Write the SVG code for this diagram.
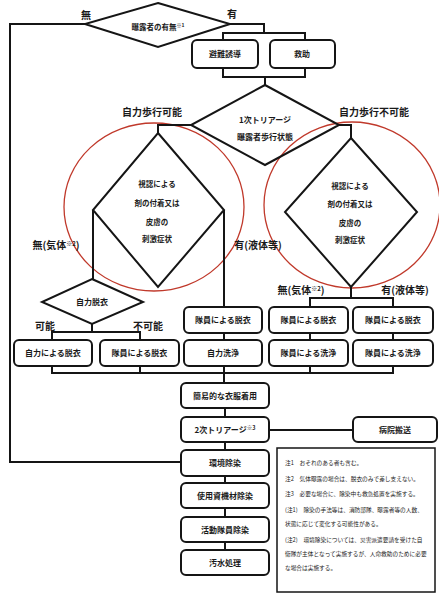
<svg xmlns="http://www.w3.org/2000/svg" width="439" height="595" viewBox="0 0 439 595">
<style>
.ln{fill:none;stroke:#151515;stroke-width:2;stroke-linejoin:miter}
.bx{fill:#fff;stroke:#151515;stroke-width:2}
.dm{fill:none;stroke:#151515;stroke-width:2}
.t{font-family:"Noto Sans CJK JP","Noto Sans",sans-serif;font-weight:bold;fill:#1a1a1a;text-anchor:middle}
.b{font-size:8px}
.d{font-size:7.5px}
.lb{font-size:10px}
.n{font-family:"Noto Sans CJK JP","Noto Sans",sans-serif;font-size:5.7px;fill:#1a1a1a}
.rc{fill:none;stroke:#c0392b;stroke-width:1.3}
</style>
<rect width="439" height="595" fill="#fff"/>

<g id="circles">
  <ellipse class="rc" cx="154" cy="207" rx="90" ry="84"/>
  <ellipse class="rc" cx="352" cy="205" rx="88" ry="83"/>
</g>

<g id="connectors">
  <polyline class="ln" points="85,24 10,24 10,462 181,462"/>
  <polyline class="ln" points="230,24 264,24 264,33"/>
  <polyline class="ln" points="223,40 223,33 305,33 305,40"/>
  <polyline class="ln" points="223,68 223,77 305,77 305,68"/>
  <line class="ln" x1="265" y1="77" x2="265" y2="85"/>
  <polyline class="ln" points="191,125 158,125 158,133"/>
  <polyline class="ln" points="339,125 351,125 351,138"/>
  <line class="ln" x1="93" y1="210" x2="93" y2="279"/>
  <line class="ln" x1="224" y1="210" x2="224" y2="307"/>
  <line class="ln" x1="92" y1="324" x2="92" y2="332"/>
  <polyline class="ln" points="52,340 52,332 140,332 140,340"/>
  <line class="ln" x1="351" y1="287" x2="351" y2="298"/>
  <polyline class="ln" points="310,307 310,298 393,298 393,307"/>
  <line class="ln" x1="224" y1="333" x2="224" y2="340"/>
  <line class="ln" x1="310" y1="333" x2="310" y2="340"/>
  <line class="ln" x1="393" y1="333" x2="393" y2="340"/>
  <polyline class="ln" points="52,366 52,373 393,373 393,366"/>
  <line class="ln" x1="140" y1="366" x2="140" y2="373"/>
  <line class="ln" x1="310" y1="366" x2="310" y2="373"/>
  <line class="ln" x1="224" y1="366" x2="224" y2="383"/>
  <line class="ln" x1="225" y1="408" x2="225" y2="417"/>
  <line class="ln" x1="269" y1="430" x2="353" y2="430"/>
  <line class="ln" x1="225" y1="442" x2="225" y2="450"/>
  <line class="ln" x1="225" y1="476" x2="225" y2="483"/>
  <line class="ln" x1="225" y1="508" x2="225" y2="517"/>
  <line class="ln" x1="225" y1="542" x2="225" y2="550"/>
</g>

<g id="labels">
  <text class="t lb" x="86" y="19">無</text>
  <text class="t lb" x="232" y="18">有</text>
  <text class="t lb" x="152" y="116">自力歩行可能</text>
  <text class="t lb" x="374" y="116">自力歩行不可能</text>
  <text class="t lb" x="56" y="249">無(気体<tspan font-size="6" dy="-3">※2</tspan><tspan dy="3">)</tspan></text>
  <text class="t lb" x="258" y="249">有(液体等)</text>
  <text class="t lb" x="301" y="294">無(気体<tspan font-size="6" dy="-3">※2</tspan><tspan dy="3">)</tspan></text>
  <text class="t lb" x="405" y="294">有(液体等)</text>
  <text class="t lb" x="45" y="330">可能</text>
  <text class="t lb" x="148" y="330">不可能</text>
</g>

<g id="n-exposed">
  <polygon class="dm" points="158,3 230,24 158,47 85,24"/>
  <text class="t d" x="158" y="30">曝露者の有無<tspan font-size="5" dy="-3">※1</tspan></text>
</g>
<g id="n-evac"><rect class="bx" x="192" y="40" width="66" height="28" rx="5"/><text class="t b" x="225" y="57">避難誘導</text></g>
<g id="n-rescue"><rect class="bx" x="270" y="40" width="65" height="28" rx="5"/><text class="t b" x="302" y="57">救助</text></g>

<g id="n-triage1">
  <polygon class="dm" points="265,85 339,125 265,165 191,125"/>
  <text class="t b" x="265" y="123">1次トリアージ</text>
  <text class="t b" x="265" y="140">曝露者歩行状態</text>
</g>

<g id="n-inspect-left">
  <polygon class="dm" points="158,133 224,210 158,287 93,210"/>
  <text class="t d" x="157" y="187">視認による</text>
  <text class="t d" x="157" y="206">剤の付着又は</text>
  <text class="t d" x="157" y="225">皮膚の</text>
  <text class="t d" x="157" y="242">刺激症状</text>
</g>
<g id="n-inspect-right">
  <polygon class="dm" points="351,138 417,212 351,287 285,212"/>
  <text class="t d" x="350" y="189">視認による</text>
  <text class="t d" x="350" y="207">剤の付着又は</text>
  <text class="t d" x="350" y="226">皮膚の</text>
  <text class="t d" x="350" y="243">刺激症状</text>
</g>

<g id="n-selfundress">
  <polygon class="dm" points="92,279 143,302 92,324 42,302"/>
  <text class="t b" x="92" y="305">自力脱衣</text>
</g>

<g id="n-a1"><rect class="bx" x="14" y="340" width="78" height="26" rx="5"/><text class="t b" x="53" y="356">自力による脱衣</text></g>
<g id="n-a2"><rect class="bx" x="100" y="340" width="79" height="26" rx="5"/><text class="t b" x="139.5" y="356">隊員による脱衣</text></g>
<g id="n-b1"><rect class="bx" x="184" y="307" width="78" height="26" rx="5"/><text class="t b" x="223" y="323">隊員による脱衣</text></g>
<g id="n-b2"><rect class="bx" x="184" y="340" width="78" height="26" rx="5"/><text class="t b" x="223" y="356">自力洗浄</text></g>
<g id="n-c1"><rect class="bx" x="269" y="307" width="79" height="26" rx="5"/><text class="t b" x="308.5" y="323">隊員による脱衣</text></g>
<g id="n-c2"><rect class="bx" x="269" y="340" width="79" height="26" rx="5"/><text class="t b" x="308.5" y="356">隊員による洗浄</text></g>
<g id="n-d1"><rect class="bx" x="353" y="307" width="80" height="26" rx="5"/><text class="t b" x="393" y="323">隊員による脱衣</text></g>
<g id="n-d2"><rect class="bx" x="353" y="340" width="80" height="26" rx="5"/><text class="t b" x="393" y="356">隊員による洗浄</text></g>

<g id="n-clothes"><rect class="bx" x="181" y="383" width="88" height="25" rx="5"/><text class="t b" x="225" y="398.5">簡易的な衣服着用</text></g>
<g id="n-triage2"><rect class="bx" x="181" y="417" width="88" height="25" rx="5"/><text class="t b" x="225" y="432.5">2次トリアージ<tspan font-size="5.5" dy="-3">※3</tspan></text></g>
<g id="n-hospital"><rect class="bx" x="353" y="417" width="84" height="25" rx="5"/><text class="t b" x="395" y="432.5">病院搬送</text></g>
<g id="n-env"><rect class="bx" x="181" y="450" width="88" height="26" rx="5"/><text class="t b" x="225" y="466">環境除染</text></g>
<g id="n-equip"><rect class="bx" x="181" y="483" width="88" height="25" rx="5"/><text class="t b" x="225" y="498.5">使用資機材除染</text></g>
<g id="n-staff"><rect class="bx" x="181" y="517" width="88" height="25" rx="5"/><text class="t b" x="225" y="532.5">活動隊員除染</text></g>
<g id="n-water"><rect class="bx" x="181" y="550" width="88" height="25" rx="5"/><text class="t b" x="225" y="565.5">汚水処理</text></g>

<g id="n-notes">
  <rect x="277" y="448" width="158" height="144" fill="#fff" stroke="#151515" stroke-width="1.5"/>
  <text class="n" x="285" y="465">注1　おそれのある者も含む。</text>
  <text class="n" x="285" y="481">注2　気体曝露の場合は、脱衣のみで差し支えない。</text>
  <text class="n" x="285" y="496">注3　必要な場合に、除染中も救急処置を実施する。</text>
  <text class="n" x="285" y="512">(注1)　除染の手法等は、消防部隊、曝露者等の人数、</text>
  <text class="n" x="285" y="526">状態に応じて変化する可能性がある。</text>
  <text class="n" x="285" y="542">(注2)　環境除染については、災害派遣要請を受けた自</text>
  <text class="n" x="285" y="556">衛隊が主体となって実施するが、人命救助のために必要</text>
  <text class="n" x="285" y="570">な場合は実施する。</text>
</g>
</svg>
